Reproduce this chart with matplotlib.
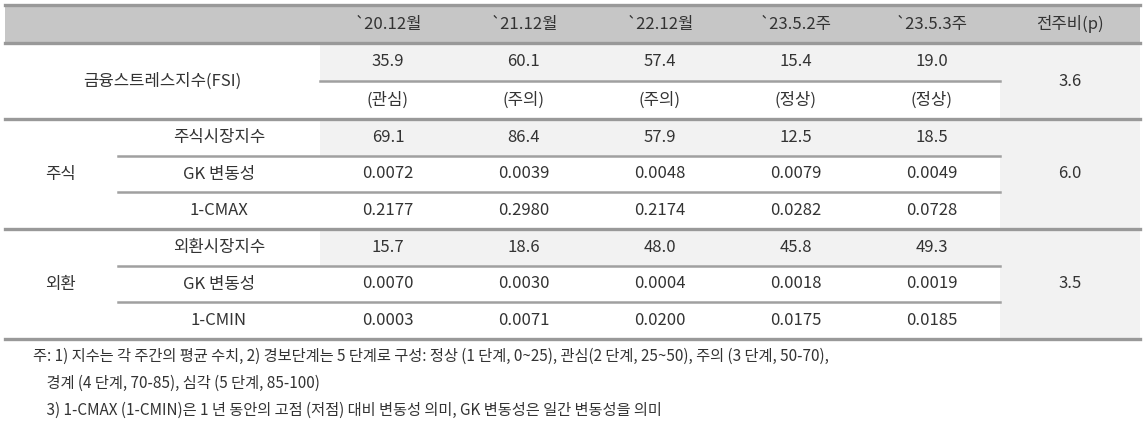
import matplotlib
matplotlib.use("Agg")
import matplotlib.pyplot as plt
from matplotlib.patches import Rectangle
from matplotlib import font_manager as fm

names = sorted({f.name for f in fm.fontManager.ttflist})
cands = [n for n in ["Noto Sans CJK KR", "Noto Sans CJK SC", "Noto Sans CJK JP", "Noto Sans CJK TC"] if n in names]
cands += [n for n in names if 'CJK' in n or 'KR' in n]
plt.rcParams['font.family'] = 'sans-serif'
plt.rcParams['font.sans-serif'] = cands + ['DejaVu Sans']

columns = ["`20.12월", "`21.12월", "`22.12월", "`23.5.2주", "`23.5.3주"]
change_header = "전주비(p)"
fsi_label = "금융스트레스지수(FSI)"
fsi_values = ["35.9", "60.1", "57.4", "15.4", "19.0"]
fsi_levels = ["(관심)", "(주의)", "(주의)", "(정상)", "(정상)"]
fsi_change = "3.6"
stock_label = "주식"
stock_rows = ["주식시장지수", "GK 변동성", "1-CMAX"]
stock_values = [["69.1", "86.4", "57.9", "12.5", "18.5"],
                ["0.0072", "0.0039", "0.0048", "0.0079", "0.0049"],
                ["0.2177", "0.2980", "0.2174", "0.0282", "0.0728"]]
stock_change = "6.0"
fx_label = "외환"
fx_rows = ["외환시장지수", "GK 변동성", "1-CMIN"]
fx_values = [["15.7", "18.6", "48.0", "45.8", "49.3"],
             ["0.0070", "0.0030", "0.0004", "0.0018", "0.0019"],
             ["0.0003", "0.0071", "0.0200", "0.0175", "0.0185"]]
fx_change = "3.5"
notes = ["주: 1) 지수는 각 주간의 평균 수치, 2) 경보단계는 5 단계로 구성: 정상 (1 단계, 0~25), 관심(2 단계, 25~50), 주의 (3 단계, 50-70),",
         "    경계 (4 단계, 70-85), 심각 (5 단계, 85-100)",
         "    3) 1-CMAX (1-CMIN)은 1 년 동안의 고점 (저점) 대비 변동성 의미, GK 변동성은 일간 변동성을 의미"]

W, H = 1145, 430
fig = plt.figure(figsize=(W/100, H/100), dpi=100)
ax = fig.add_axes([0, 0, 1, 1])
ax.set_xlim(0, W); ax.set_ylim(H, 0); ax.axis('off')

X0, XL, XD = 5, 118, 320
CW = 136
XR = XD + CW*5
XE = 1140
TXT = '#333333'
FS = 12
LC = '#a0a0a0'
SH = '#f2f2f2'

def cx(i): return XD + CW*i + CW/2

ax.add_patch(Rectangle((X0, 5), XE-X0, 38, color='#c6c6c6', lw=0))
for i, c in enumerate(columns):
    ax.text(cx(i), 24, c, ha='center', va='center', fontsize=FS, color=TXT)
ax.text((XR+XE)/2, 24, change_header, ha='center', va='center', fontsize=FS, color=TXT)

rh_f = 38
ax.add_patch(Rectangle((XD, 43), CW*5, rh_f, color=SH, lw=0))
ax.add_patch(Rectangle((XR, 43), XE-XR, 296, color=SH, lw=0))
rh = 110/3
ax.add_patch(Rectangle((XD, 119), CW*5, rh, color=SH, lw=0))
ax.add_patch(Rectangle((XD, 229), CW*5, rh, color=SH, lw=0))

ax.text((X0+XD)/2, 81, fsi_label, ha='center', va='center', fontsize=FS, color=TXT)
for i in range(5):
    ax.text(cx(i), 61, fsi_values[i], ha='center', va='center', fontsize=FS, color=TXT)
    ax.text(cx(i), 100, fsi_levels[i], ha='center', va='center', fontsize=FS, color=TXT)
ax.text((XR+XE)/2, 81, fsi_change, ha='center', va='center', fontsize=FS, color=TXT)
ax.plot([XD, XR], [81, 81], color=LC, lw=1.8)

def section(y0, label, rows, vals, chg):
    ax.text(60, y0+55, label, ha='center', va='center', fontsize=FS, color=TXT)
    for r in range(3):
        yc = y0 + rh*r + rh/2
        ax.text((XL+XD)/2, yc, rows[r], ha='center', va='center', fontsize=FS, color=TXT)
        for i in range(5):
            ax.text(cx(i), yc, vals[r][i], ha='center', va='center', fontsize=FS, color=TXT)
        if r > 0:
            ax.plot([XL, XR], [y0+rh*r]*2, color=LC, lw=1.8)
    ax.text((XR+XE)/2, y0+55, chg, ha='center', va='center', fontsize=FS, color=TXT)

section(119, stock_label, stock_rows, stock_values, stock_change)
section(229, fx_label, fx_rows, fx_values, fx_change)

for y in [5, 43, 119, 229, 339]:
    ax.plot([X0, XE], [y, y], color='#999999', lw=2.4)

for k, n in enumerate(notes):
    ax.text(33, 356 + 27*k, n, ha='left', va='center', fontsize=11, color=TXT)

fig.savefig('out.png', dpi=100)
